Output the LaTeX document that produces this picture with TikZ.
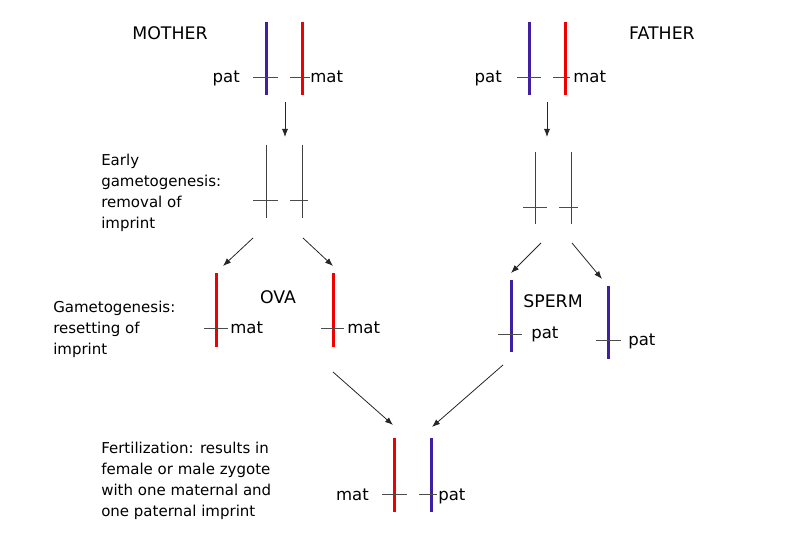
\documentclass[tikz,border=0pt]{standalone}
\usepackage{fontspec}
\setmainfont{DejaVu Sans}
\usetikzlibrary{arrows.meta,positioning}

\definecolor{patblue}{RGB}{64,32,160}
\definecolor{matred}{RGB}{240,0,0}

\tikzset{
  patchr/.style={line width=2.25pt,patblue},
  matchr/.style={line width=2.25pt,matred},
  plainchr/.style={line width=0.6pt,black!75},
  crossbar/.style={line width=0.6pt,black!70},
  imprint/.style={font=\fontsize{12.4}{15}\selectfont,inner sep=0pt},
  title/.style={font=\fontsize{13}{16}\selectfont,inner sep=0pt,anchor=base},
  stagetext/.style={font=\fontsize{11.25}{15.75}\selectfont,align=left,anchor=north west,inner sep=0pt},
  fwd/.style={-{Latex[length=6pt,width=4.5pt]},line width=0.6pt,black!85},
}

\begin{document}
\begin{tikzpicture}[x=0.75pt,y=-0.75pt]
\useasboundingbox (0,0) rectangle (794,560);

% parents
\node[title] (mother) at (170,40) {MOTHER};
\node[title] (father) at (662,40) {FATHER};

\draw[patchr] (266,22)--(266,95);
\draw[matchr] (302,22)--(302,95);
\draw[crossbar] (253,77)--(278,77);
\draw[crossbar] (290,77)--(310,77);
\node[imprint,anchor=base east] (mumpat) at (240,83) {pat};
\node[imprint,anchor=base west] (mummat) at (310,83) {mat};

\draw[patchr] (529,22)--(529,95);
\draw[matchr] (565,22)--(565,95);
\draw[crossbar] (517,77)--(541,77);
\draw[crossbar] (553,77)--(570,77);
\node[imprint,anchor=base east] (dadpat) at (502,83) {pat};
\node[imprint,anchor=base west] (dadmat) at (573,83) {mat};

\coordinate (mumout) at (285,102);
\coordinate (mumin) at (285,137);
\draw[fwd] (mumout)--(mumin);
\coordinate (dadout) at (547,102);
\coordinate (dadin) at (547,137);
\draw[fwd] (dadout)--(dadin);

% early gametogenesis, imprint removed
\node[stagetext] (early) at (101,154) {Early\\gametogenesis:\\removal of\\imprint};

\draw[plainchr] (266,145)--(266,218);
\draw[plainchr] (302,145)--(302,218);
\draw[crossbar] (253,200)--(278,200);
\draw[crossbar] (290,200)--(308,200);

\draw[plainchr] (535,152)--(535,224);
\draw[plainchr] (571,152)--(571,224);
\draw[crossbar] (523,207)--(547,207);
\draw[crossbar] (559,207)--(578,207);

\coordinate (mumsplit) at (253,238);
\coordinate (mumsplitr) at (303,238);
\coordinate (ovaltop) at (223,266);
\coordinate (ovartop) at (333,266);
\draw[fwd] (mumsplit)--(ovaltop);
\draw[fwd] (mumsplitr)--(ovartop);

\coordinate (dadsplit) at (541,243);
\coordinate (dadsplitr) at (572,243);
\coordinate (spermltop) at (511,273);
\coordinate (spermrtop) at (602,279);
\draw[fwd] (dadsplit)--(spermltop);
\draw[fwd] (dadsplitr)--(spermrtop);

% gametes, imprint reset
\node[stagetext] (reset) at (53,301) {Gametogenesis:\\resetting of\\imprint};

\node[title] (ova) at (278,303) {OVA};
\draw[matchr] (216,273)--(216,347);
\draw[matchr] (333,273)--(333,347);
\draw[crossbar] (204,328)--(228,328);
\draw[crossbar] (321,328)--(344,328);
\node[imprint,anchor=base west] (ovamat) at (230,334) {mat};
\node[imprint,anchor=base west] (ovamatr) at (347,334) {mat};

\node[title] (sperm) at (553,307) {SPERM};
\draw[patchr] (511,280)--(511,352);
\draw[patchr] (608,286)--(608,359);
\draw[crossbar] (498,334)--(522,334);
\draw[crossbar] (596,340)--(621,340);
\node[imprint,anchor=base west] (spermpat) at (531,339) {pat};
\node[imprint,anchor=base west] (spermpatr) at (628,345) {pat};

\coordinate (ovaout) at (333,372);
\coordinate (spermout) at (503,365);
\coordinate (zygl) at (393,425);
\coordinate (zygr) at (432,427);
\draw[fwd] (ovaout)--(zygl);
\draw[fwd] (spermout)--(zygr);

% zygote
\node[stagetext] (fert) at (101,442) {Fertilization: results in\\female or male zygote\\with one maternal and\\one paternal imprint};

\draw[matchr] (394,438)--(394,512);
\draw[patchr] (431,438)--(431,512);
\draw[crossbar] (382,494)--(407,494);
\draw[crossbar] (419,494)--(437,494);
\node[imprint,anchor=base east] (zygmat) at (369,500) {mat};
\node[imprint,anchor=base west] (zygpat) at (438,500) {pat};
\end{tikzpicture}
\end{document}
